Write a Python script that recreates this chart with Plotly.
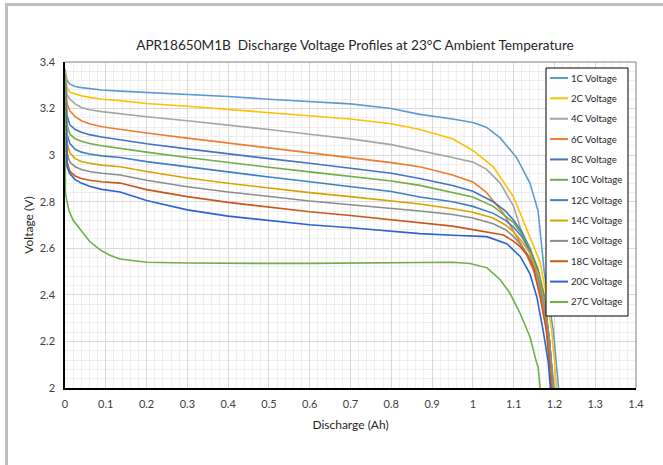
import plotly.graph_objects as go

# ---------------- data ----------------
names = ["1C Voltage", "2C Voltage", "4C Voltage", "6C Voltage", "8C Voltage", "10C Voltage",
         "12C Voltage", "14C Voltage", "16C Voltage", "18C Voltage", "20C Voltage", "27C Voltage"]
colors = ["#5B9BD5", "#FFC000", "#A5A5A5", "#ED7D31", "#4472C4", "#70AD47",
          "#3F80C4", "#D9A300", "#8C8C8C", "#C9581A", "#2E63D0", "#6DB04A"]

x_body = [0, 0.005, 0.012, 0.025, 0.04, 0.06, 0.09, 0.135, 0.2, 0.3, 0.4, 0.5, 0.6, 0.7, 0.8, 0.87, 0.95, 1.0]

x_1c = x_body + [1.033, 1.067, 1.107, 1.14, 1.16, 1.165, 1.175, 1.188, 1.197, 1.205, 1.21]
v_1c = [3.37, 3.32, 3.305, 3.295, 3.29, 3.285, 3.28, 3.275, 3.27, 3.262, 3.252, 3.24, 3.23, 3.22, 3.2, 3.175, 3.155, 3.14,
        3.12, 3.074, 2.99, 2.88, 2.76, 2.68, 2.5, 2.35, 2.25, 2.1, 2.0]

x_2c = x_body + [1.05, 1.1, 1.13, 1.15, 1.165, 1.18, 1.193, 1.2, 1.205]
v_2c = [3.36, 3.29, 3.27, 3.262, 3.255, 3.248, 3.24, 3.234, 3.222, 3.21, 3.197, 3.183, 3.17, 3.155, 3.135, 3.11, 3.07, 3.02,
        2.95, 2.82, 2.69, 2.6, 2.54, 2.4, 2.25, 2.12, 2.0]

x_4c = x_body + [1.033, 1.067, 1.1, 1.116, 1.133, 1.15, 1.165, 1.18, 1.19, 1.2]
v_4c = [3.35, 3.26, 3.24, 3.22, 3.205, 3.195, 3.187, 3.177, 3.165, 3.148, 3.13, 3.11, 3.09, 3.07, 3.045, 3.02, 2.99, 2.97,
        2.94, 2.88, 2.78, 2.69, 2.61, 2.53, 2.42, 2.28, 2.15, 2.0]

x_6c = x_body + [1.033, 1.075, 1.107, 1.13, 1.15, 1.165, 1.178, 1.188, 1.197]
v_6c = [3.35, 3.22, 3.19, 3.165, 3.148, 3.135, 3.122, 3.11, 3.095, 3.073, 3.052, 3.031, 3.011, 2.991, 2.968, 2.95, 2.915, 2.885,
        2.84, 2.75, 2.65, 2.58, 2.5, 2.4, 2.28, 2.15, 2.0]

x_tail = [1.05, 1.08, 1.1, 1.12, 1.14, 1.16, 1.175, 1.188, 1.197]

x_8c = x_body + x_tail
v_8c = [3.34, 3.17, 3.13, 3.11, 3.098, 3.088, 3.078, 3.065, 3.049, 3.027, 3.005, 2.985, 2.965, 2.945, 2.922, 2.9, 2.87, 2.845,
        2.8, 2.76, 2.72, 2.67, 2.6, 2.5, 2.38, 2.2, 2.0]

x_10c = x_body + x_tail
v_10c = [3.34, 3.13, 3.09, 3.07, 3.06, 3.05, 3.04, 3.03, 3.013, 2.99, 2.968, 2.948, 2.928, 2.909, 2.889, 2.87, 2.84, 2.82,
         2.78, 2.74, 2.71, 2.66, 2.6, 2.51, 2.4, 2.2, 2.0]

x_12c = x_body + x_tail
v_12c = [3.33, 3.09, 3.05, 3.025, 3.013, 3.005, 2.997, 2.99, 2.972, 2.949, 2.927, 2.906, 2.886, 2.866, 2.844, 2.82, 2.8, 2.78,
         2.75, 2.72, 2.69, 2.65, 2.59, 2.5, 2.38, 2.2, 2.0]

x_14c = x_body + x_tail
v_14c = [3.33, 3.05, 3.01, 2.985, 2.973, 2.965, 2.957, 2.95, 2.93, 2.902, 2.879, 2.858, 2.839, 2.822, 2.805, 2.79, 2.77, 2.755,
         2.73, 2.7, 2.67, 2.63, 2.58, 2.49, 2.37, 2.2, 2.0]

x_16c = x_body + x_tail
v_16c = [3.32, 3.01, 2.97, 2.95, 2.938, 2.93, 2.922, 2.915, 2.892, 2.864, 2.842, 2.822, 2.803, 2.787, 2.772, 2.76, 2.745, 2.73,
         2.705, 2.68, 2.65, 2.61, 2.56, 2.47, 2.35, 2.2, 2.0]

x_18c = x_body + [1.05, 1.075, 1.1, 1.116, 1.133, 1.148, 1.165, 1.18, 1.193]
v_18c = [3.32, 2.97, 2.93, 2.91, 2.9, 2.892, 2.886, 2.88, 2.852, 2.822, 2.797, 2.776, 2.757, 2.741, 2.723, 2.71, 2.695, 2.68,
         2.665, 2.657, 2.63, 2.607, 2.57, 2.52, 2.39, 2.25, 2.0]

x_20c = x_body + [1.034, 1.083, 1.116, 1.14, 1.157, 1.172, 1.185, 1.19]
v_20c = [3.31, 2.95, 2.92, 2.895, 2.88, 2.866, 2.853, 2.842, 2.805, 2.765, 2.738, 2.718, 2.701, 2.688, 2.673, 2.663, 2.656, 2.652,
         2.65, 2.62, 2.565, 2.49, 2.39, 2.25, 2.11, 2.0]

x_27c = [0, 0.001, 0.004, 0.01, 0.02, 0.037, 0.06, 0.086, 0.11, 0.135, 0.17, 0.2, 0.3, 0.4, 0.5, 0.6, 0.7, 0.8, 0.87, 0.95,
         0.993, 1.017, 1.035, 1.067, 1.09, 1.116, 1.14, 1.156, 1.16, 1.165]
v_27c = [3.33, 2.84, 2.81, 2.76, 2.72, 2.68, 2.63, 2.593, 2.57, 2.554, 2.545, 2.54, 2.537, 2.535, 2.535, 2.535, 2.537, 2.54, 2.54, 2.54,
         2.535, 2.525, 2.516, 2.465, 2.41, 2.32, 2.22, 2.11, 2.09, 2.0]

series_x = [x_1c, x_2c, x_4c, x_6c, x_8c, x_10c, x_12c, x_14c, x_16c, x_18c, x_20c, x_27c]
series_v = [v_1c, v_2c, v_4c, v_6c, v_8c, v_10c, v_12c, v_14c, v_16c, v_18c, v_20c, v_27c]

x_ticks = [0, 0.1, 0.2, 0.3, 0.4, 0.5, 0.6, 0.7, 0.8, 0.9, 1, 1.1, 1.2, 1.3, 1.4]
y_ticks = [2, 2.2, 2.4, 2.6, 2.8, 3, 3.2, 3.4]

# ---------------- figure ----------------
FONT = "Lato, 'Open Sans', sans-serif"
fig = go.Figure()
for i, (xs, vs) in enumerate(zip(series_x, series_v)):
    fig.add_trace(go.Scatter(x=xs, y=vs, mode="lines", name=names[i], showlegend=False,
                             line=dict(color=colors[i], width=1.6)))

W, H = 663, 465
L, R, T, B = 65, 27, 62, 77
pw, ph = W - L - R, H - T - B


def px_x(p):
    return (p - L) / pw


def px_y(p):
    return (H - B - p) / ph


shapes = [
    # plot-area top and right border
    dict(type="line", xref="paper", yref="paper", x0=0, x1=1, y0=1, y1=1,
         line=dict(color="#7F7F7F", width=1)),
    dict(type="line", xref="paper", yref="paper", x0=1, x1=1, y0=0, y1=1,
         line=dict(color="#7F7F7F", width=1)),
    # outer chart frame (top and left)
    dict(type="line", xref="paper", yref="paper", x0=px_x(5), x1=px_x(663), y0=px_y(4.5), y1=px_y(4.5),
         line=dict(color="#BFBFBF", width=3)),
    dict(type="line", xref="paper", yref="paper", x0=px_x(6.5), x1=px_x(6.5), y0=px_y(3), y1=px_y(465),
         line=dict(color="#BFBFBF", width=3)),
    # legend box
    dict(type="rect", xref="paper", yref="paper", x0=px_x(546), x1=px_x(628), y0=px_y(68), y1=px_y(316),
         fillcolor="white", line=dict(color="#000000", width=1), layer="above"),
]
annotations = []
for i, nm in enumerate(names):
    yc = 78 + i * 20.36
    shapes.append(dict(type="line", xref="paper", yref="paper", x0=px_x(550), x1=px_x(568),
                       y0=px_y(yc), y1=px_y(yc), line=dict(color=colors[i], width=2), layer="above"))
    annotations.append(dict(text=nm, xref="paper", yref="paper", x=px_x(569), y=px_y(yc),
                            xanchor="left", yanchor="middle", showarrow=False,
                            font=dict(size=9.6, color="#262626", family=FONT)))

fig.update_layout(
    width=W, height=H,
    margin=dict(l=L, r=R, t=T, b=B),
    paper_bgcolor="white", plot_bgcolor="white",
    font=dict(family=FONT, color="#404040", size=11),
    title=dict(text="APR18650M1B  Discharge Voltage Profiles at 23°C Ambient Temperature",
               x=355 / W, xanchor="center", y=1 - 45 / H, yanchor="middle",
               font=dict(size=13.6, color="#262626", family=FONT)),
    showlegend=False,
    xaxis=dict(range=[0, 1.4], tickvals=x_ticks, ticktext=[f"{v:g}" for v in x_ticks],
               showgrid=True, gridcolor="#D9D9D9", gridwidth=1,
               minor=dict(dtick=0.02, showgrid=True, gridcolor="#EFEFEF", gridwidth=1),
               showline=True, linecolor="#000000", linewidth=1.5, zeroline=False,
               ticks="", ticklabelstandoff=5, tickfont=dict(size=11, color="#404040"),
               title=dict(text="Discharge (Ah)", font=dict(size=12, color="#262626"), standoff=12)),
    yaxis=dict(range=[2, 3.4], tickvals=y_ticks, ticktext=[f"{v:g}" for v in y_ticks],
               showgrid=True, gridcolor="#D9D9D9", gridwidth=1,
               minor=dict(dtick=0.04, showgrid=True, gridcolor="#EFEFEF", gridwidth=1),
               showline=True, linecolor="#000000", linewidth=1.5, zeroline=False,
               ticks="", ticklabelstandoff=6, tickfont=dict(size=11, color="#404040"),
               title=dict(text="Voltage (V)", font=dict(size=12, color="#262626"), standoff=3)),
    shapes=shapes,
    annotations=annotations,
)

fig.write_html("out.html", config={"displayModeBar": False},
               post_script="document.body.style.margin='0px';")
